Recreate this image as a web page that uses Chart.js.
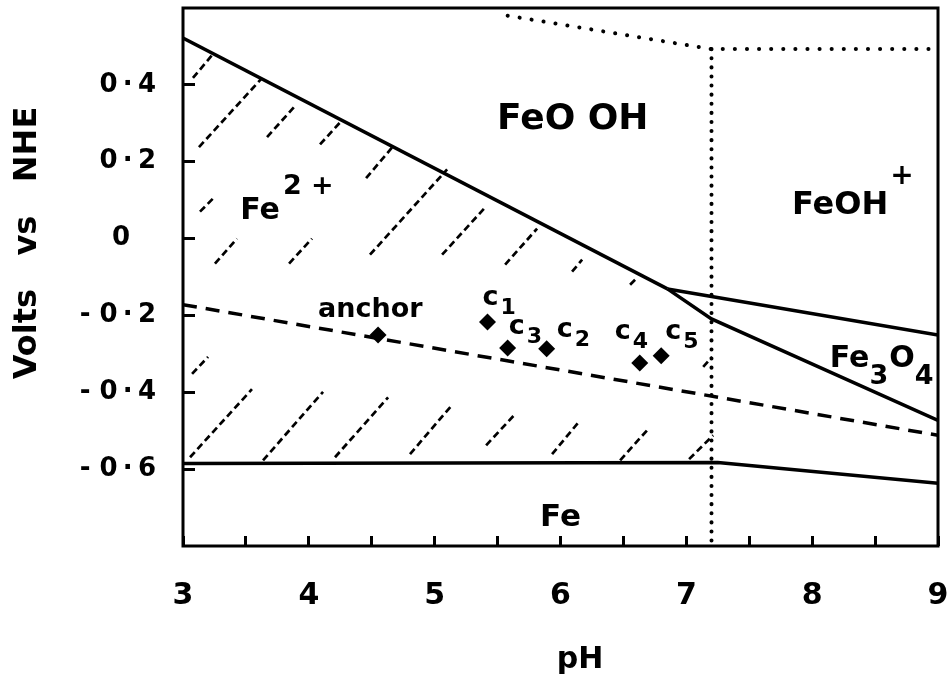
<!DOCTYPE html>
<html>
<head>
<meta charset="utf-8">
<script src="https://cdn.jsdelivr.net/npm/chart.js@4.4.1/dist/chart.umd.min.js"></script>
<style>
html, body { margin: 0; padding: 0; background: #fff; }
</style>
</head>
<body>
<canvas id="grafico" width="951" height="679"></canvas>
<script>
// values
var phTicks = [3, 3.5, 4, 4.5, 5, 5.5, 6, 6.5, 7, 7.5, 8, 8.5, 9];
var voltTicks = [0.4, 0.2, 0, -0.2, -0.4, -0.6];
var voltLabels = ['0\u2009·\u20094', '0\u2009·\u20092', '0\u2002\u2002', '- 0\u2009·\u20092', '- 0\u2009·\u20094', '- 0\u2009·\u20096'];

// Fe2+ / FeOOH boundary
var upperX = [3, 6.85];
var upperY = [0.522, -0.131];
// FeOOH / Fe3O4 (lower branch)
var magX = [6.85, 7.2, 9];
var magY = [-0.131, -0.209, -0.473];
// FeOH+ / Fe3O4 (upper branch)
var feohX = [6.85, 9];
var feohY = [-0.131, -0.251];
// Fe boundary
var feX = [3, 7.25, 9];
var feY = [-0.585, -0.583, -0.637];
// dashed line through the samples
var dashX = [3, 9];
var dashY = [-0.172, -0.512];
// dotted boundaries
var dotX = [5.58, 7.2, 8.95];
var dotY = [0.58, 0.493, 0.493];
var dotVX = [7.2, 7.2];
var dotVY = [0.493, -0.79];

// sample points
var sampleNames = ['anchor', 'c1', 'c3', 'c2', 'c4', 'c5'];
var sampleX = [4.55, 5.42, 5.58, 5.89, 6.63, 6.80];
var sampleY = [-0.251, -0.217, -0.285, -0.287, -0.324, -0.305];

// hatch strokes in the Fe2+ field: [x1, y1, x2, y2]
var hatchSegments = [
	[3.079, 0.418, 3.238, 0.480],
	[3.127, 0.238, 3.620, 0.415],
	[3.668, 0.264, 3.890, 0.345],
	[4.089, 0.245, 4.264, 0.308],
	[4.455, 0.157, 4.669, 0.240],
	[3.135, 0.070, 3.238, 0.104],
	[4.486, -0.042, 5.099, 0.180],
	[3.254, -0.065, 3.429, 0.0],
	[3.843, -0.065, 4.025, 0.0],
	[5.059, -0.042, 5.401, 0.081],
	[5.560, -0.068, 5.814, 0.026],
	[6.092, -0.086, 6.172, -0.055],
	[6.553, -0.120, 6.593, -0.107],
	[3.072, -0.352, 3.199, -0.308],
	[3.056, -0.569, 3.548, -0.392],
	[3.636, -0.577, 4.113, -0.399],
	[4.208, -0.569, 4.630, -0.413],
	[4.804, -0.561, 5.138, -0.433],
	[5.409, -0.538, 5.639, -0.457],
	[5.933, -0.561, 6.156, -0.473],
	[6.474, -0.577, 6.696, -0.496],
	[7.022, -0.574, 7.213, -0.512],
	[7.134, -0.334, 7.205, -0.308]
];

var FONT = '"DejaVu Sans", sans-serif';

function pts(xs, ys) {
	var out = [];
	for (var i in xs) {
		out.push({x: xs[i], y: ys[i]});
	}
	return out;
}

var hatchData = [];
for (var i in hatchSegments) {
	var s = hatchSegments[i];
	hatchData.push({x: s[0], y: s[1]});
	hatchData.push({x: s[2], y: s[3]});
	hatchData.push({x: s[2], y: null});
}

function solid(xs, ys) {
	return {data: pts(xs, ys), borderColor: '#000', borderWidth: 3.5, pointRadius: 0, order: 2};
}

// region labels: start in data units (left edge, baseline), then runs [text, size, dy, gap]
var notes = [
	{x: 5.496, y: 0.285, runs: [['FeO OH', 36, 0, 0]]},
	{x: 3.455, y: 0.052, runs: [['Fe', 30, 0, 0], ['2 +', 27, -25, 3]]},
	{x: 7.84, y: 0.065, runs: [['FeOH', 32, 0, 0], ['+', 28, -30, 2]]},
	{x: 8.14, y: -0.334, runs: [['Fe', 30, 0, 0], ['3', 27, 17, 0], ['O', 30, 0, 1], ['4', 27, 17, 0]]},
	{x: 5.838, y: -0.747, runs: [['Fe', 31, 0, 0]]}
];
// label offsets from each sample point, pixels
var sampleLabelPos = [[-60, -18], [-5, -17], [1, -14], [10, -12], [-25, -24], [4, -17]];

var notesPlugin = {
	id: 'notes',
	afterDatasetsDraw: function(chart) {
		var ctx = chart.ctx;
		var xs = chart.scales.x, ys = chart.scales.y;
		ctx.save();
		ctx.fillStyle = '#000';
		ctx.textAlign = 'left';
		ctx.textBaseline = 'alphabetic';
		for (var i in notes) {
			var n = notes[i];
			var px = xs.getPixelForValue(n.x);
			var py = ys.getPixelForValue(n.y);
			for (var k in n.runs) {
				var r = n.runs[k];
				ctx.font = 'bold ' + r[1] + 'px ' + FONT;
				px += r[3];
				ctx.fillText(r[0], px, py + r[2]);
				px += ctx.measureText(r[0]).width;
			}
		}
		var meta = chart.getDatasetMeta(0);
		for (var j in sampleNames) {
			var el = meta.data[j];
			var lx = el.x + sampleLabelPos[j][0];
			var ly = el.y + sampleLabelPos[j][1];
			var name = sampleNames[j];
			if (name === 'anchor') {
				ctx.font = 'bold 27px ' + FONT;
				ctx.fillText(name, lx, ly);
			} else {
				ctx.font = 'bold 27px ' + FONT;
				ctx.fillText(name.charAt(0), lx, ly);
				var w = ctx.measureText(name.charAt(0)).width;
				ctx.font = 'bold 22px ' + FONT;
				ctx.fillText(name.substring(1), lx + w + 2, ly + 9);
			}
		}
		// frame
		var a = chart.chartArea;
		ctx.lineWidth = 3;
		ctx.strokeStyle = '#000';
		ctx.strokeRect(a.left, a.top, a.right - a.left, a.bottom - a.top);
		// axis titles
		ctx.font = 'bold 30px ' + FONT;
		ctx.textAlign = 'center';
		ctx.textBaseline = 'middle';
		ctx.fillText('pH', 580, 660);
		ctx.font = 'bold 32px ' + FONT;
		ctx.translate(28, 243);
		ctx.rotate(-Math.PI / 2);
		ctx.fillText('Volts   vs   NHE', 0, 0);
		ctx.restore();
	}
};

var ctx = document.getElementById('grafico');

var chart = new Chart(ctx, {
	type: 'line',
	data: {
		datasets: [
			{
				data: pts(sampleX, sampleY),
				showLine: false,
				pointStyle: 'rectRot',
				pointRadius: 8.5,
				pointBackgroundColor: '#000',
				pointBorderColor: '#000',
				pointBorderWidth: 0,
				order: 0
			},
			solid(upperX, upperY),
			solid(magX, magY),
			solid(feohX, feohY),
			solid(feX, feY),
			{data: pts(dashX, dashY), borderColor: '#000', borderWidth: 3.5, borderDash: [14, 9], pointRadius: 0, order: 2},
			{data: pts(dotX, dotY), borderColor: '#000', borderWidth: 4, borderDash: [0.1, 12], borderCapStyle: 'round', pointRadius: 0, order: 2},
			{data: pts(dotVX, dotVY), borderColor: '#000', borderWidth: 4, borderDash: [0.1, 9], borderCapStyle: 'round', pointRadius: 0, order: 2},
			{data: hatchData, borderColor: '#000', borderWidth: 2.7, borderDash: [7, 4], pointRadius: 0, spanGaps: false, order: 3}
		]
	},
	options: {
		responsive: false,
		devicePixelRatio: 1,
		animation: false,
		layout: {autoPadding: false, padding: {top: 8, right: 13, left: 0, bottom: 0}},
		plugins: {legend: {display: false}, tooltip: {enabled: false}},
		elements: {line: {tension: 0, fill: false}},
		scales: {
			x: {
				type: 'linear',
				min: 3,
				max: 9,
				afterBuildTicks: function(scale) {
					scale.ticks = phTicks.map(function(v) { return {value: v}; });
				},
				afterFit: function(scale) {
					scale.height = 133;
					scale.paddingLeft = 0; scale.paddingRight = 0;
				},
				border: {display: false},
				grid: {drawOnChartArea: false, drawTicks: true, tickLength: -10, color: '#000', lineWidth: 3},
				ticks: {
					autoSkip: false,
					maxRotation: 0,
					padding: 42,
					color: '#000',
					font: {family: FONT, size: 30, weight: 'bold'},
					callback: function(v) { return v % 1 === 0 ? String(v) : ''; }
				}
			},
			y: {
				type: 'linear',
				min: -0.8,
				max: 0.6,
				afterBuildTicks: function(scale) {
					scale.ticks = voltTicks.map(function(v) { return {value: v}; });
				},
				afterFit: function(scale) {
					scale.width = 183;
					scale.paddingTop = 0; scale.paddingBottom = 0;
				},
				border: {display: false},
				grid: {drawOnChartArea: false, drawTicks: true, tickLength: -12, color: '#000', lineWidth: 3},
				ticks: {
					autoSkip: false,
					padding: 39,
					color: '#000',
					font: {family: FONT, size: 26, weight: 'bold'},
					callback: function(v, idx) { return voltLabels[idx]; }
				}
			}
		}
	},
	plugins: [notesPlugin]
});
</script>
</body>
</html>
